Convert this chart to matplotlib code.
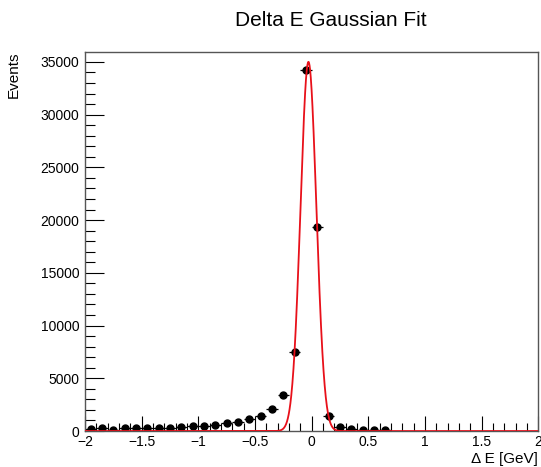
import numpy as np
import matplotlib
import matplotlib.pyplot as plt
from matplotlib.ticker import MultipleLocator, FuncFormatter

matplotlib.use('Agg')

plt.rcParams['font.family'] = ['Liberation Sans', 'DejaVu Sans']

# Histogram bins (0.1 GeV wide) and counts
bin_centers = np.round(np.arange(-1.95, 2.0, 0.1), 2)
counts = [160, 255, 120, 255, 255, 255, 315, 315, 350, 475,
          475, 570, 730, 825, 1110, 1450, 2060, 3415, 7470, 34230,
          19330, 1420, 350, 190, 95, 95, 95, 0, 0, 0,
          0, 0, 0, 0, 0, 0, 0, 0, 0, 0]
bin_width = 0.1

# Gaussian fit parameters
fit_amp = 35000
fit_mean = -0.028
fit_sigma = 0.07

counts = np.array(counts, dtype=float)
mask = counts > 0
x = bin_centers[mask]
y = counts[mask]

fig = plt.figure(figsize=(5.41, 4.67), dpi=100)
ax = fig.add_axes([0.157, 0.077, 0.838, 0.812])

ax.errorbar(x, y, xerr=bin_width / 2, yerr=np.sqrt(y), fmt='o', color='black',
            markersize=5, elinewidth=0.9, capsize=0, zorder=2)

xf = np.linspace(-2, 2, 1601)
yf = fit_amp * np.exp(-0.5 * ((xf - fit_mean) / fit_sigma) ** 2)
ax.plot(xf, yf, color='#e8101a', linewidth=1.3, zorder=3)

ax.set_xlim(-2, 2)
ax.set_ylim(0, 35950)

ax.xaxis.set_major_locator(MultipleLocator(0.5))
ax.xaxis.set_minor_locator(MultipleLocator(0.1))
ax.yaxis.set_major_locator(MultipleLocator(5000))
ax.yaxis.set_minor_locator(MultipleLocator(1000))
ax.xaxis.set_major_formatter(FuncFormatter(lambda v, p: ('%g' % v).replace('-', '\u2212')))
ax.yaxis.set_major_formatter(FuncFormatter(lambda v, p: '%d' % v))

ax.tick_params(axis='x', which='major', direction='in', length=11, width=0.8, labelsize=10, pad=3)
ax.tick_params(axis='x', which='minor', direction='in', length=5.5, width=0.8)
ax.tick_params(axis='y', which='major', direction='in', length=14, width=0.8, labelsize=10, pad=4)
ax.tick_params(axis='y', which='minor', direction='in', length=7, width=0.8)

for s in ax.spines.values():
    s.set_color('#555555')
    s.set_linewidth(1.0)

ax.set_xlabel('\u0394 E [GeV]', fontsize=11, loc='right', labelpad=2)
ax.set_ylabel('Events', fontsize=11, loc='top', labelpad=14)

fig.text(331 / 541, 1 - 20 / 467, 'Delta E Gaussian Fit', fontsize=15,
         ha='center', va='center')

fig.savefig('out.png', dpi=100)
